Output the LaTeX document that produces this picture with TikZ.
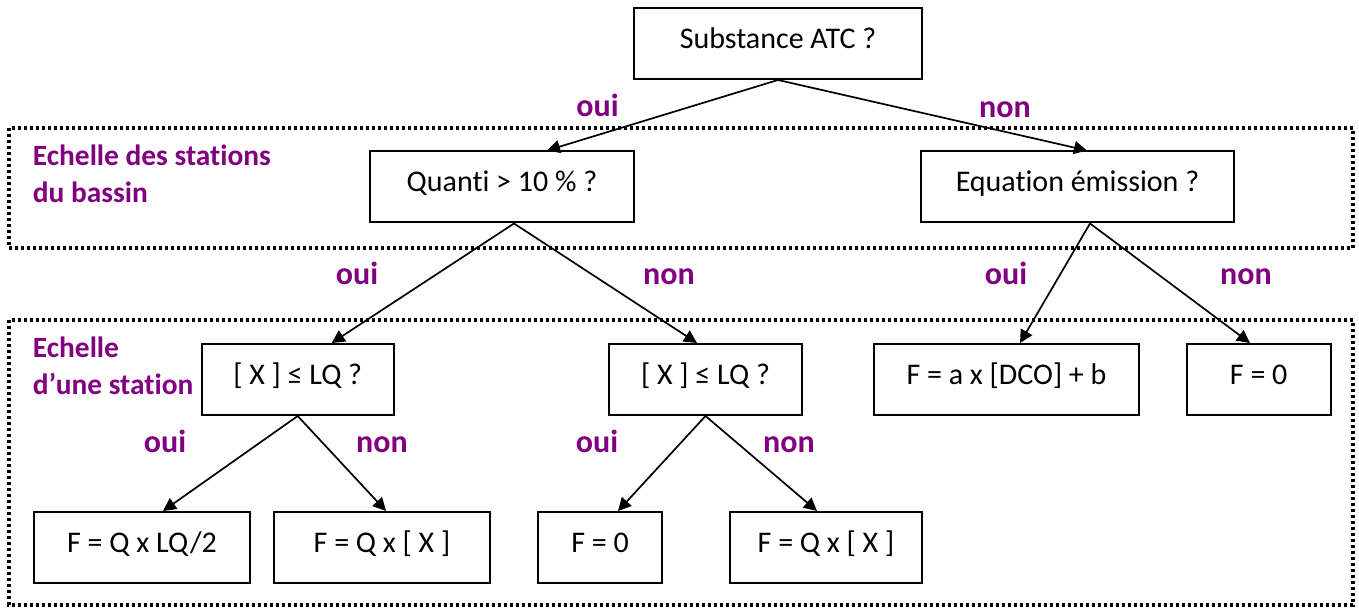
\documentclass[tikz,border=0pt]{standalone}
\usepackage{fontspec}
\setmainfont{Carlito}[Ligatures=NoCommon]
\usetikzlibrary{arrows.meta}
\definecolor{oupurple}{RGB}{128,0,128}

\begin{document}
\begin{tikzpicture}[x=0.5pt,y=-0.5pt,
  box/.style={draw,line width=1pt,inner sep=0pt,minimum height=35.5pt,text height=10.6pt,text depth=5.6pt,font=\fontsize{15}{18}\selectfont},
  ans/.style={anchor=base,text=oupurple,font=\fontsize{16}{19}\bfseries\selectfont},
  echelle/.style={anchor=base west,align=left,inner sep=0pt,text=oupurple,font=\fontsize{14.7}{18.5}\bfseries\selectfont},
  zone/.style={draw,line width=1.6pt,dash pattern=on 1.5pt off 1.5pt},
  arr/.style={-{Triangle[length=6.5pt,width=6.5pt]},line width=0.85pt}]
\useasboundingbox (0,0) rectangle (1359,608);
\draw[zone] (9,128) rectangle (1353,248);
\draw[zone] (9,320) rectangle (1353,605);
\node[echelle] (bassin) at (32.5,203) {Echelle des stations\\du bassin};
\node[echelle] (station) at (32.5,395) {Echelle\\d’une station};

\node[box,minimum width=144pt] (atc) at (778,43.5) {Substance ATC ?};
\node[box,minimum width=132pt] (quanti) at (502,187) {Quanti > 10 \% ?};
\node[box,minimum width=156.5pt] (eq) at (1077.5,187) {Equation émission ?};
\node[box,minimum width=96pt] (lqa) at (297.7,379.5) {[ X ] ≤ LQ ?};
\node[box,minimum width=96.5pt] (lqb) at (705.5,379.5) {[ X ] ≤ LQ ?};
\node[box,minimum width=132.5pt] (dco) at (1006.5,379.5) {F = a x [DCO] + b};
\node[box,minimum width=72pt] (zeroc) at (1258.7,379.5) {F = 0};
\node[box,minimum width=108pt] (demi) at (142,547.5) {F = Q x LQ/2};
\node[box,minimum width=108pt] (qxa) at (382,547.5) {F = Q x [ X ]};
\node[box,minimum width=62pt] (zerob) at (600,547.5) {F = 0};
\node[box,minimum width=96pt] (qxb) at (826,547.5) {F = Q x [ X ]};

\draw[arr] (atc.south) -- ([xshift=22.5pt]quanti.north);
\draw[arr] (atc.south) -- ([xshift=4.75pt]eq.north);
\draw[arr] ([xshift=6pt]quanti.south) -- ([xshift=17pt]lqa.north);
\draw[arr] ([xshift=6pt]quanti.south) -- ([xshift=-4.25pt]lqb.north);
\draw[arr] ([xshift=6.25pt]eq.south) -- ([xshift=6.75pt]dco.north);
\draw[arr] ([xshift=6.25pt]eq.south) -- ([xshift=-4.35pt]zeroc.north);
\draw[arr] (lqa.south) -- ([xshift=10.5pt]demi.north);
\draw[arr] (lqa.south) -- ([xshift=2pt]qxa.north);
\draw[arr] (lqb.south) -- ([xshift=9pt]zerob.north);
\draw[arr] (lqb.south) -- ([xshift=-4.5pt]qxb.north);

\node[ans] (oui1) at (597.5,117) {oui};
\node[ans] (non1) at (1005,118) {non};
\node[ans] (oui2) at (357,285) {oui};
\node[ans] (non2) at (669,285) {non};
\node[ans] (oui3) at (1006,285) {oui};
\node[ans] (non3) at (1246,285) {non};
\node[ans] (oui4) at (165,453) {oui};
\node[ans] (non4) at (382,453) {non};
\node[ans] (oui5) at (597,453) {oui};
\node[ans] (non5) at (789,453) {non};
\end{tikzpicture}
\end{document}
